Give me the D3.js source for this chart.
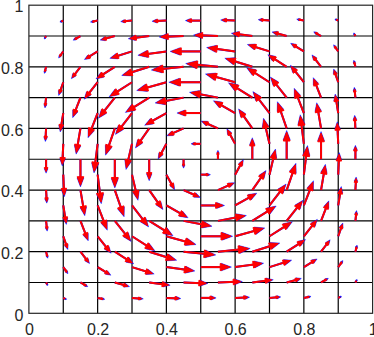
<!DOCTYPE html>
<html>
<head>
<meta charset="utf-8">
<script src="https://cdn.jsdelivr.net/npm/d3@7"></script>
<style>
  body { margin: 0; background: #fff; }
  .tick text { font-family: "Liberation Sans", Arial, sans-serif; font-size: 16px; fill: #262626; }
</style>
</head>
<body>
<svg id="chart" width="374" height="337"></svg>
<script>
// velocity at vertical edge midpoints (x = i/10, y = (j+.5)/10)
const xV = [0.1, 0.2, 0.3, 0.4, 0.5, 0.6, 0.7, 0.8, 0.9];
const yV = [0.05, 0.15, 0.25, 0.35, 0.45, 0.55, 0.65, 0.75, 0.85, 0.95];
const uV = [
  [0.06, 0.18, 0.31, 0.41, 0.44, 0.41, 0.31, 0.18, 0.06],
  [0.12, 0.38, 0.66, 0.86, 0.93, 0.86, 0.66, 0.38, 0.12],
  [0.13, 0.40, 0.69, 0.90, 0.97, 0.90, 0.69, 0.40, 0.13],
  [0.09, 0.29, 0.50, 0.65, 0.71, 0.65, 0.50, 0.29, 0.09],
  [0.03, 0.11, 0.18, 0.24, 0.26, 0.24, 0.18, 0.11, 0.03],
  [-0.03, -0.11, -0.18, -0.24, -0.26, -0.24, -0.18, -0.11, -0.03],
  [-0.09, -0.29, -0.50, -0.65, -0.71, -0.65, -0.50, -0.29, -0.09],
  [-0.13, -0.40, -0.69, -0.90, -0.97, -0.90, -0.69, -0.40, -0.13],
  [-0.12, -0.38, -0.66, -0.86, -0.93, -0.86, -0.66, -0.38, -0.12],
  [-0.06, -0.18, -0.31, -0.41, -0.44, -0.41, -0.31, -0.18, -0.06]
];
const vV = [
  [-0.03, -0.04, -0.03, -0.02, 0, 0.02, 0.03, 0.04, 0.03],
  [-0.19, -0.26, -0.23, -0.13, 0, 0.13, 0.23, 0.26, 0.19],
  [-0.42, -0.56, -0.49, -0.28, 0, 0.28, 0.49, 0.56, 0.42],
  [-0.62, -0.83, -0.72, -0.41, 0, 0.41, 0.72, 0.83, 0.62],
  [-0.73, -0.98, -0.86, -0.49, 0, 0.49, 0.86, 0.98, 0.73],
  [-0.73, -0.98, -0.86, -0.49, 0, 0.49, 0.86, 0.98, 0.73],
  [-0.62, -0.83, -0.72, -0.41, 0, 0.41, 0.72, 0.83, 0.62],
  [-0.42, -0.56, -0.49, -0.28, 0, 0.28, 0.49, 0.56, 0.42],
  [-0.19, -0.26, -0.23, -0.13, 0, 0.13, 0.23, 0.26, 0.19],
  [-0.03, -0.04, -0.03, -0.02, 0, 0.02, 0.03, 0.04, 0.03]
];

// velocity at horizontal edge midpoints (x = (i+.5)/10, y = j/10)
const xH = [0.05, 0.15, 0.25, 0.35, 0.45, 0.55, 0.65, 0.75, 0.85, 0.95];
const yH = [0.1, 0.2, 0.3, 0.4, 0.5, 0.6, 0.7, 0.8, 0.9];
const uH = [
  [0.03, 0.19, 0.42, 0.62, 0.73, 0.73, 0.62, 0.42, 0.19, 0.03],
  [0.04, 0.26, 0.56, 0.83, 0.98, 0.98, 0.83, 0.56, 0.26, 0.04],
  [0.03, 0.23, 0.49, 0.72, 0.86, 0.86, 0.72, 0.49, 0.23, 0.03],
  [0.02, 0.13, 0.28, 0.41, 0.49, 0.49, 0.41, 0.28, 0.13, 0.02],
  [0, 0, 0, 0, 0, 0, 0, 0, 0, 0],
  [-0.02, -0.13, -0.28, -0.41, -0.49, -0.49, -0.41, -0.28, -0.13, -0.02],
  [-0.03, -0.23, -0.49, -0.72, -0.86, -0.86, -0.72, -0.49, -0.23, -0.03],
  [-0.04, -0.26, -0.56, -0.83, -0.98, -0.98, -0.83, -0.56, -0.26, -0.04],
  [-0.03, -0.19, -0.42, -0.62, -0.73, -0.73, -0.62, -0.42, -0.19, -0.03]
];
const vH = [
  [-0.06, -0.12, -0.13, -0.09, -0.03, 0.03, 0.09, 0.13, 0.12, 0.06],
  [-0.18, -0.38, -0.40, -0.29, -0.11, 0.11, 0.29, 0.40, 0.38, 0.18],
  [-0.31, -0.66, -0.69, -0.50, -0.18, 0.18, 0.50, 0.69, 0.66, 0.31],
  [-0.41, -0.86, -0.90, -0.65, -0.24, 0.24, 0.65, 0.90, 0.86, 0.41],
  [-0.44, -0.93, -0.97, -0.71, -0.26, 0.26, 0.71, 0.97, 0.93, 0.44],
  [-0.41, -0.86, -0.90, -0.65, -0.24, 0.24, 0.65, 0.90, 0.86, 0.41],
  [-0.31, -0.66, -0.69, -0.50, -0.18, 0.18, 0.50, 0.69, 0.66, 0.31],
  [-0.18, -0.38, -0.40, -0.29, -0.11, 0.11, 0.29, 0.40, 0.38, 0.18],
  [-0.06, -0.12, -0.13, -0.09, -0.03, 0.03, 0.09, 0.13, 0.12, 0.06]
];

const meshLines = [0.1, 0.2, 0.3, 0.4, 0.5, 0.6, 0.7, 0.8, 0.9];
const tickVals = [0, 0.2, 0.4, 0.6, 0.8, 1];

const svg = d3.select('#chart');
const x = d3.scaleLinear().domain([0, 1]).range([28.9, 372.6]);
const y = d3.scaleLinear().domain([0, 1]).range([313.3, 5.2]);
const S = 0.091; // quiver scale, data units per unit velocity

// mesh
svg.append('g').selectAll('line.v').data(meshLines).join('line')
  .attr('x1', d => x(d)).attr('x2', d => x(d))
  .attr('y1', y(0)).attr('y2', y(1))
  .attr('stroke', '#000').attr('stroke-width', 1.2);
svg.append('g').selectAll('line.h').data(meshLines).join('line')
  .attr('y1', d => y(d)).attr('y2', d => y(d))
  .attr('x1', x(0)).attr('x2', x(1))
  .attr('stroke', '#000').attr('stroke-width', 1.2);

// collect arrows
let arrows = [];
yV.forEach((yy, j) => xV.forEach((xx, i) => arrows.push({ x: xx, y: yy, u: uV[j][i], v: vV[j][i] })));
yH.forEach((yy, j) => xH.forEach((xx, i) => arrows.push({ x: xx, y: yy, u: uH[j][i], v: vH[j][i] })));
arrows = arrows.filter(a => a.u !== 0 || a.v !== 0);

function geom(a, extra) {
  const x0 = x(a.x), y0 = y(a.y);
  const x1 = x(a.x + S * a.u), y1 = y(a.y + S * a.v);
  const L0 = Math.hypot(x1 - x0, y1 - y0);
  const ux = (x1 - x0) / L0, uy = (y1 - y0) / L0;
  const L = L0 + extra;
  const tx = x0 + ux * L, ty = y0 + uy * L;
  const h = 0.33 * L, w = 0.11 * L + 0.4;
  const bx = tx - ux * h, by = ty - uy * h;
  return {
    shaft: `M${x0},${y0}L${bx + ux * h * 0.3},${by + uy * h * 0.3}`,
    head: `M${tx},${ty}L${bx - uy * w},${by + ux * w}L${bx + uy * w},${by - ux * w}Z`
  };
}

function drawArrows(color, extra, headStroke) {
  const g = svg.append('g');
  const gs = arrows.map(a => geom(a, extra));
  g.selectAll('path.shaft').data(gs).join('path')
    .attr('d', d => d.shaft).attr('fill', 'none')
    .attr('stroke', color).attr('stroke-width', 2);
  g.selectAll('path.head').data(gs).join('path')
    .attr('d', d => d.head).attr('fill', color)
    .attr('stroke', color).attr('stroke-width', headStroke).attr('stroke-linejoin', 'miter');
}

drawArrows('#0000ff', 1.6, 0.4);
drawArrows('#ff0000', 0, 1);

// axes box
svg.append('rect')
  .attr('x', x(0)).attr('y', y(1))
  .attr('width', x(1) - x(0)).attr('height', y(0) - y(1))
  .attr('fill', 'none').attr('stroke', '#262626').attr('stroke-width', 1.2);

const fmt = d3.format('~g');
svg.append('g').attr('transform', `translate(0,${y(0)})`)
  .call(d3.axisBottom(x).tickValues(tickVals).tickFormat(fmt).tickSizeInner(0).tickSizeOuter(0).tickPadding(10))
  .call(g => g.select('.domain').remove());
svg.append('g').attr('transform', `translate(${x(0)},0)`)
  .call(d3.axisLeft(y).tickValues(tickVals).tickFormat(fmt).tickSizeInner(0).tickSizeOuter(0).tickPadding(5.6))
  .call(g => g.select('.domain').remove())
  .call(g => g.selectAll('text').attr('dy', '0.42em'));
</script>
</body>
</html>
